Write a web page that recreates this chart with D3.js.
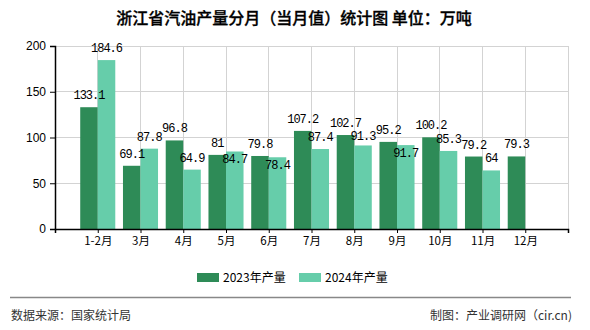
<!DOCTYPE html>
<html><head><meta charset="utf-8">
<script src="https://cdn.jsdelivr.net/npm/d3@7"></script>
<style>
html,body{margin:0;padding:0;background:#fff;}
svg{display:block;}
</style></head>
<body>
<svg id="chart" width="590" height="330"></svg>
<script>
const categories = ["1-2月","3月","4月","5月","6月","7月","8月","9月","10月","11月","12月"];
const values2023 = [133.1, 69.1, 96.8, 81, 79.8, 107.2, 102.7, 95.2, 100.2, 79.2, 79.3];
const values2024 = [184.6, 87.8, 64.9, 84.7, 78.4, 87.4, 91.3, 91.7, 85.3, 64, null];
const seriesNames = ["2023年产量","2024年产量"];
const yTicks = [0, 50, 100, 150, 200];
const title = "浙江省汽油产量分月（当月值）统计图 单位：万吨";
const sourceText = "数据来源：国家统计局";
const creditText = "制图：产业调研网（cir.cn)";

const colors = ["#2e8b57", "#66cdaa"];
const svg = d3.select("#chart");
const cjk = "'Noto Sans CJK SC','Noto Sans',sans-serif";
const L = 55, R = 568, T = 46, B = 229;

const x = d3.scaleLinear().domain([0, categories.length + 1]).range([L, R]);
const y = d3.scaleLinear().domain([0, 200]).range([B, T]);
const step = x(1) - x(0);
const bw = step * 0.41;

// title
svg.append("text").attr("x", 294).attr("y", 24).attr("text-anchor", "middle")
  .style("font-family", cjk).style("font-size", "16px").style("font-weight", "500")
  .attr("fill", "#000").attr("stroke", "#000").attr("stroke-width", 0.3).text(title);

// grid
const g = svg.append("g");
g.selectAll(".hg").data(yTicks.filter(d => d > 0)).join("line")
  .attr("x1", L).attr("x2", R).attr("y1", d => y(d)).attr("y2", d => y(d))
  .attr("stroke", "#d3d3d3").attr("stroke-width", 1).attr("shape-rendering", "crispEdges");
g.selectAll(".vg").data(d3.range(1, categories.length + 2)).join("line")
  .attr("x1", d => x(d)).attr("x2", d => x(d)).attr("y1", T).attr("y2", B)
  .attr("stroke", "#d3d3d3").attr("stroke-width", 1).attr("shape-rendering", "crispEdges");

// bars
const data = categories.map((c, i) => ({c, i, v: [values2023[i], values2024[i]]}));
[0, 1].forEach(s => {
  svg.append("g").selectAll("rect").data(data.filter(d => d.v[s] != null)).join("rect")
    .attr("x", d => x(d.i + 1) - bw + s * bw)
    .attr("width", bw)
    .attr("y", d => y(d.v[s]))
    .attr("height", d => B - y(d.v[s]))
    .attr("fill", colors[s]);
});

// axes
const yAxis = d3.axisLeft(y).tickValues(yTicks).tickSize(5).tickPadding(4);
const ya = svg.append("g").attr("transform", `translate(${L},0)`).call(yAxis);
const xAxis = d3.axisBottom(x).tickValues(d3.range(0, categories.length + 2)).tickSize(4).tickPadding(4)
  .tickFormat(d => (d >= 1 && d <= categories.length) ? categories[d - 1] : "");
const xa = svg.append("g").attr("transform", `translate(0,${B})`).call(xAxis);
[ya, xa].forEach(a => {
  a.select(".domain").attr("stroke", "#000").attr("stroke-width", 1.5);
  a.selectAll(".tick line").attr("stroke", "#000");
  a.selectAll("text").attr("fill", "#000").style("font-family", cjk).style("font-size", "11.5px");
});
ya.selectAll("text").style("font-family", "'Liberation Sans',Arial,sans-serif").style("font-size", "12px");

// value labels
const lf = "'Liberation Mono','DejaVu Sans Mono',monospace";
const labelLayer = svg.append("g").style("font-family", lf).style("font-size", "12px")
  .style("letter-spacing", "-1px").attr("fill", "#000").attr("text-anchor", "middle");
data.forEach(d => {
  const cy0 = y(d.v[0]) - 12;
  labelLayer.append("text").attr("x", x(d.i + 1) - bw / 2).attr("y", cy0 + 4).text(d.v[0]);
  if (d.v[1] != null) {
    let cy1 = y(d.v[1]) - 12;
    const diff = cy1 - cy0;
    if (Math.abs(diff) < 12) {
      if (Math.abs(diff) < 6) cy1 = y(d.v[1]) + 8;
      else cy1 = diff > 0 ? cy0 + 13 : cy0 - 13;
    }
    labelLayer.append("text").attr("x", x(d.i + 1) + bw / 2).attr("y", cy1 + 4).text(d.v[1]);
  }
});

// legend
const legendX = [197, 299];
seriesNames.forEach((n, i) => {
  svg.append("rect").attr("x", legendX[i]).attr("y", 273).attr("width", 22).attr("height", 9).attr("fill", colors[i]);
  svg.append("text").attr("x", legendX[i] + 26).attr("y", 282).style("font-family", cjk)
    .style("font-size", "12px").attr("fill", "#000").text(n);
});

// footer
svg.append("line").attr("x1", 10).attr("x2", 571).attr("y1", 297.5).attr("y2", 297.5)
  .attr("stroke", "#888").attr("stroke-width", 1.5);
svg.append("text").attr("x", 11).attr("y", 320).style("font-family", cjk).style("font-size", "12px")
  .attr("fill", "#333").text(sourceText);
svg.append("text").attr("x", 572).attr("y", 320).attr("text-anchor", "end").style("font-family", cjk)
  .style("font-size", "12px").attr("fill", "#333").text(creditText);
</script>
</body></html>
